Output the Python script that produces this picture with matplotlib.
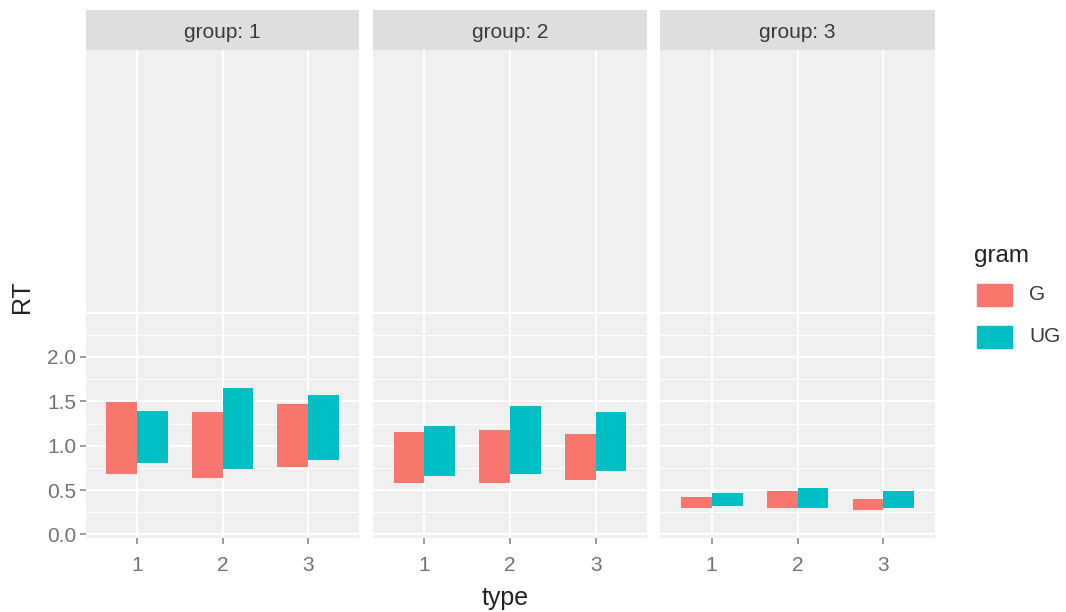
import matplotlib.pyplot as plt
import numpy as np

plt.rcParams['font.family'] = ['Liberation Sans', 'DejaVu Sans']

# floating bars: each bar spans RT low .. RT high per type and gram
types = [1, 2, 3]
groups = ['group: 1', 'group: 2', 'group: 3']
grams = ['G', 'UG']
g_low = [[0.68, 0.64, 0.76], [0.58, 0.58, 0.61], [0.30, 0.30, 0.28]]
g_high = [[1.49, 1.385, 1.47], [1.16, 1.18, 1.135], [0.42, 0.49, 0.40]]
ug_low = [[0.81, 0.74, 0.835], [0.655, 0.685, 0.71], [0.325, 0.30, 0.30]]
ug_high = [[1.39, 1.655, 1.57], [1.22, 1.45, 1.385], [0.47, 0.525, 0.49]]
y_ticks = [0.0, 0.5, 1.0, 1.5, 2.0]

colors = {'G': '#F8766D', 'UG': '#00BFC4'}
panel_bg = '#F0F0F0'
strip_bg = '#DEDEDE'
text_gray = '#727272'

fig = plt.figure(figsize=(10.66, 6.12), dpi=100)
W, H = 1066, 612

lefts = [86, 373, 660]
rights = [359, 647, 935]
top, bottom = 50, 538
strip_top = 10

bw = 0.36
for i, grp in enumerate(groups):
    l, r = lefts[i], rights[i]
    ax = fig.add_axes([l / W, (H - bottom) / H, (r - l) / W, (bottom - top) / H])
    ax.set_facecolor(panel_bg)
    for s in ax.spines.values():
        s.set_visible(False)
    ax.set_xlim(0.4, 3.6)
    ax.set_ylim(-0.04, 5.46)

    # grid: horizontal lines only in the lower band
    for v in np.arange(0, 2.51, 0.25):
        major = abs(v * 2 - round(v * 2)) < 1e-9
        ax.axhline(v, color='white', lw=1.6 if major else 0.9, zorder=1)
    for t in types:
        ax.axvline(t, color='white', lw=1.5, zorder=1)

    x = np.array(types, dtype=float)
    ax.bar(x - bw / 2, np.array(g_high[i]) - np.array(g_low[i]), bottom=g_low[i],
           width=bw, color=colors['G'], zorder=2)
    ax.bar(x + bw / 2, np.array(ug_high[i]) - np.array(ug_low[i]), bottom=ug_low[i],
           width=bw, color=colors['UG'], zorder=2)

    ax.set_xticks(types)
    ax.set_xticklabels([str(t) for t in types], fontsize=15, color=text_gray)
    ax.set_yticks(y_ticks)
    if i == 0:
        ax.set_yticklabels([f'{v:.1f}' for v in y_ticks], fontsize=15, color=text_gray)
    else:
        ax.set_yticklabels([])
    ax.tick_params(axis='x', length=4, width=1.2, color='#8A8A8A', pad=9)
    ax.tick_params(axis='y', length=4 if i == 0 else 0, width=1.2, color='#8A8A8A', pad=3)

    # facet strip
    sax = fig.add_axes([l / W, (H - top) / H, (r - l) / W, (top - strip_top) / H])
    sax.set_facecolor(strip_bg)
    sax.set_xticks([])
    sax.set_yticks([])
    for s in sax.spines.values():
        s.set_visible(False)
    sax.text(0.5, 0.45, grp, ha='center', va='center', fontsize=15, color='#3A3A3A',
             transform=sax.transAxes)

fig.text(22 / W, (H - 297) / H, 'RT', rotation=90, ha='center', va='center',
         fontsize=18, color='#222222')
fig.text(505 / W, (H - 598) / H, 'type', ha='center', va='center',
         fontsize=18, color='#222222')

# legend
fig.text(974 / W, (H - 256) / H, 'gram', ha='left', va='center', fontsize=17.5, color='#222222')
key_y = [295, 337]
for name, ky in zip(grams, key_y):
    fig.patches.append(plt.Rectangle((977 / W, (H - ky - 11) / H), 35 / W, 22 / H,
                                     transform=fig.transFigure, color=colors[name]))
    fig.text(1029 / W, (H - ky) / H, name, ha='left', va='center', fontsize=15, color='#3A3A3A')

fig.savefig('out.png', dpi=100, facecolor='white')
